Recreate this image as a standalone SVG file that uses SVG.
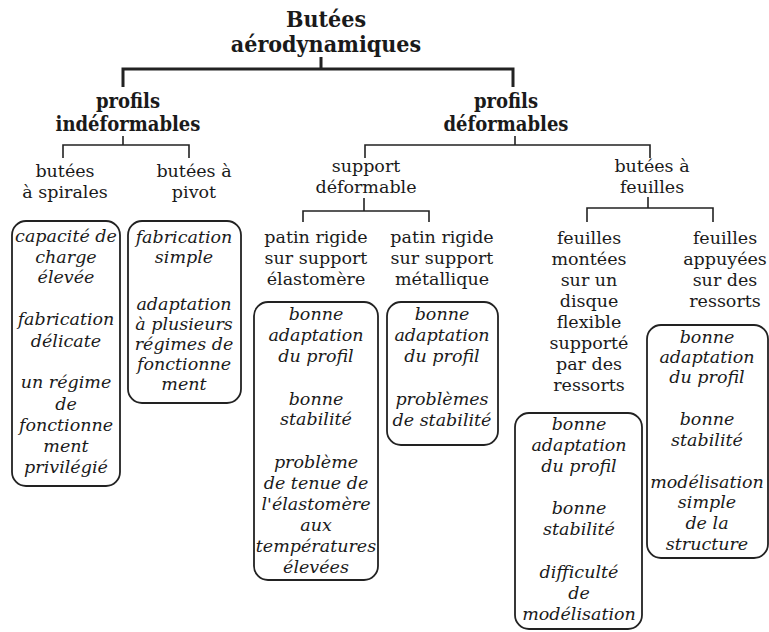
<svg xmlns="http://www.w3.org/2000/svg" width="769" height="632" viewBox="0 0 769 632">
<style>
.t{font-family:"DejaVu Serif","Liberation Serif",serif;font-size:17.5px;fill:#1a1a1a;text-anchor:middle}
.h{font-family:"DejaVu Serif","Liberation Serif",serif;font-weight:bold;font-stretch:condensed;fill:#1a1a1a;text-anchor:middle}
.i{font-family:"DejaVu Serif","Liberation Serif",serif;font-style:italic;font-size:17.5px;fill:#1a1a1a;text-anchor:middle}
.c{fill:none;stroke:#222;stroke-width:1.6}
.ct{fill:none;stroke:#222;stroke-width:3}
.b{fill:none;stroke:#222;stroke-width:1.8}
</style>
<rect width="769" height="632" fill="#fff"/>
<g id="connectors">
<path class="ct" d="M321,57V69M123,87V69H513V87"/>
<path class="c" d="M123,136V145M63,158V145H189V158"/>
<path class="c" d="M515,136V145M365,158V145H650V158"/>
<path class="c" d="M364,198V211M303,222V211H429V222"/>
<path class="c" d="M648,197V208M587,222V208H713V222"/>
</g>
<g id="root">
<text class="h" font-size="23" x="326" y="27">Butées</text>
<text class="h" font-size="23" x="326" y="52">aérodynamiques</text>
</g>
<g id="indeformables">
<text class="h" font-size="20" x="128" y="108">profils</text>
<text class="h" font-size="20" x="128" y="131">indéformables</text>
</g>
<g id="deformables">
<text class="h" font-size="20" x="506" y="108">profils</text>
<text class="h" font-size="20" x="506" y="131">déformables</text>
</g>
<g id="spirales">
<text class="t" x="65" y="177">butées</text>
<text class="t" x="65" y="198">à spirales</text>
</g>
<g id="pivot">
<text class="t" x="194" y="177">butées à</text>
<text class="t" x="194" y="198">pivot</text>
</g>
<g id="support">
<text class="t" x="366" y="172">support</text>
<text class="t" x="366" y="193">déformable</text>
</g>
<g id="feuilles">
<text class="t" x="652" y="172">butées à</text>
<text class="t" x="652" y="193">feuilles</text>
</g>
<g id="elastomere">
<text class="t" x="316" y="243">patin rigide</text>
<text class="t" x="316" y="264">sur support</text>
<text class="t" x="316" y="285">élastomère</text>
</g>
<g id="metallique">
<text class="t" x="442" y="243">patin rigide</text>
<text class="t" x="442" y="264">sur support</text>
<text class="t" x="442" y="285">métallique</text>
</g>
<g id="disque">
<text class="t" x="589" y="244">feuilles</text>
<text class="t" x="589" y="265">montées</text>
<text class="t" x="589" y="286">sur un</text>
<text class="t" x="589" y="307">disque</text>
<text class="t" x="589" y="328">flexible</text>
<text class="t" x="589" y="349">supporté</text>
<text class="t" x="589" y="370">par des</text>
<text class="t" x="589" y="391">ressorts</text>
</g>
<g id="ressorts">
<text class="t" x="725" y="244">feuilles</text>
<text class="t" x="725" y="265">appuyées</text>
<text class="t" x="725" y="286">sur des</text>
<text class="t" x="725" y="307">ressorts</text>
</g>
<g id="box-spirales">
<rect class="b" x="12" y="221" width="108" height="265" rx="14"/>
<text class="i" x="66" y="242">capacité de</text>
<text class="i" x="66" y="263">charge</text>
<text class="i" x="66" y="283">élevée</text>
<text class="i" x="66" y="325">fabrication</text>
<text class="i" x="66" y="347">délicate</text>
<text class="i" x="66" y="388">un régime</text>
<text class="i" x="66" y="410">de</text>
<text class="i" x="66" y="431">fonctionne</text>
<text class="i" x="66" y="452">ment</text>
<text class="i" x="66" y="473">privilégié</text>
</g>
<g id="box-pivot">
<rect class="b" x="128" y="221" width="113" height="182" rx="14"/>
<text class="i" x="184" y="243">fabrication</text>
<text class="i" x="184" y="263">simple</text>
<text class="i" x="184" y="310">adaptation</text>
<text class="i" x="184" y="330">à plusieurs</text>
<text class="i" x="184" y="350">régimes de</text>
<text class="i" x="184" y="370">fonctionne</text>
<text class="i" x="184" y="390">ment</text>
</g>
<g id="box-elastomere">
<rect class="b" x="254" y="302" width="124" height="278" rx="14"/>
<text class="i" x="316" y="320">bonne</text>
<text class="i" x="316" y="341">adaptation</text>
<text class="i" x="316" y="362">du profil</text>
<text class="i" x="316" y="405">bonne</text>
<text class="i" x="316" y="425">stabilité</text>
<text class="i" x="316" y="468">problème</text>
<text class="i" x="316" y="489">de  tenue de</text>
<text class="i" x="316" y="510">l'élastomère</text>
<text class="i" x="316" y="531">aux</text>
<text class="i" x="316" y="552">températures</text>
<text class="i" x="316" y="573">élevées</text>
</g>
<g id="box-metallique">
<rect class="b" x="387" y="302" width="111" height="143" rx="14"/>
<text class="i" x="442" y="320">bonne</text>
<text class="i" x="442" y="341">adaptation</text>
<text class="i" x="442" y="362">du profil</text>
<text class="i" x="442" y="405">problèmes</text>
<text class="i" x="442" y="426">de stabilité</text>
</g>
<g id="box-disque">
<rect class="b" x="515" y="413" width="127" height="216" rx="14"/>
<text class="i" x="579" y="430">bonne</text>
<text class="i" x="579" y="451">adaptation</text>
<text class="i" x="579" y="472">du profil</text>
<text class="i" x="579" y="514">bonne</text>
<text class="i" x="579" y="535">stabilité</text>
<text class="i" x="579" y="578">difficulté</text>
<text class="i" x="579" y="599">de</text>
<text class="i" x="579" y="620">modélisation</text>
</g>
<g id="box-ressorts">
<rect class="b" x="647" y="325" width="121" height="233" rx="14"/>
<text class="i" x="707" y="343">bonne</text>
<text class="i" x="707" y="363">adaptation</text>
<text class="i" x="707" y="383">du profil</text>
<text class="i" x="707" y="425">bonne</text>
<text class="i" x="707" y="446">stabilité</text>
<text class="i" x="707" y="488">modélisation</text>
<text class="i" x="707" y="508">simple</text>
<text class="i" x="707" y="529">de la</text>
<text class="i" x="707" y="550">structure</text>
</g>
</svg>
